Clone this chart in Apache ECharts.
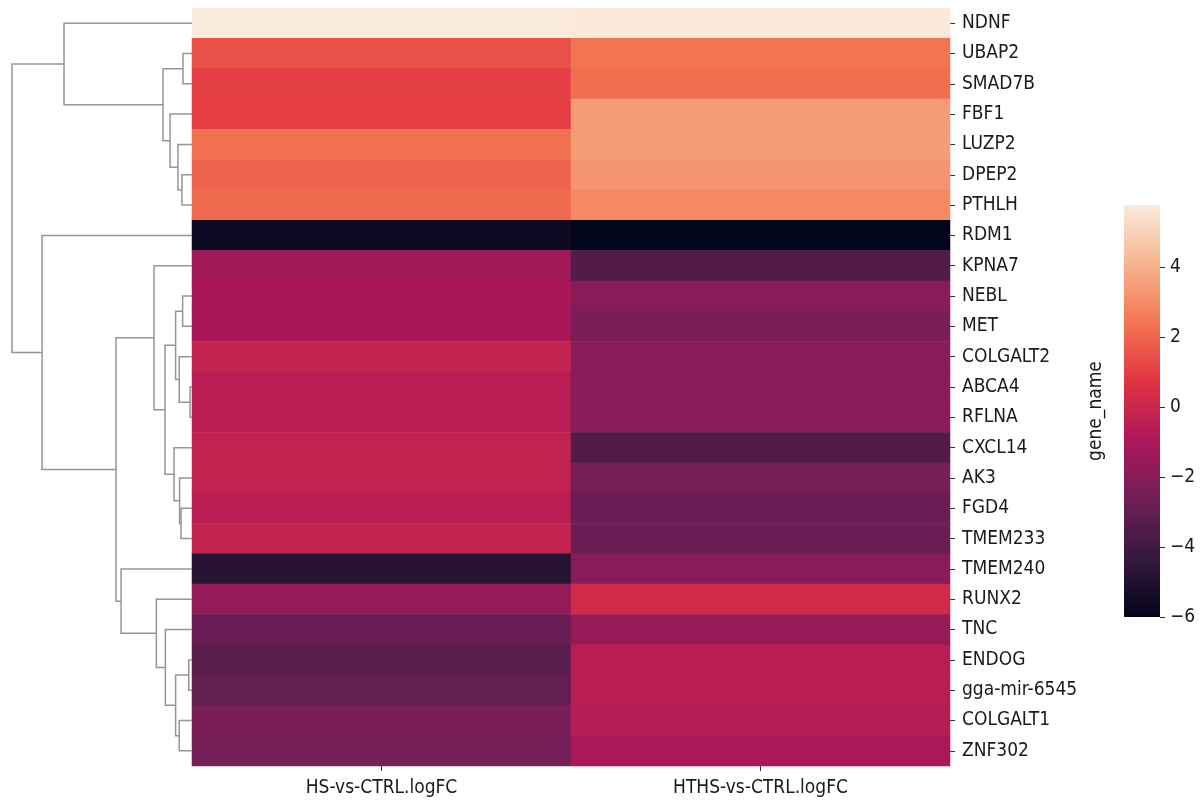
<!DOCTYPE html>
<html>
<head>
<meta charset="utf-8">
<script src="https://cdn.jsdelivr.net/npm/echarts@6/dist/echarts.min.js"></script>
<style>
html,body{margin:0;padding:0;background:#fff;}
#chart{width:1201px;height:800px;}
</style>
</head>
<body>
<div id="chart"></div>
<script>
// ---- data ----
const rows = ['NDNF','UBAP2','SMAD7B','FBF1','LUZP2','DPEP2','PTHLH','RDM1','KPNA7','NEBL','MET','COLGALT2','ABCA4','RFLNA','CXCL14','AK3','FGD4','TMEM233','TMEM240','RUNX2','TNC','ENDOG','gga-mir-6545','COLGALT1','ZNF302'];
const columns = ['HS-vs-CTRL.logFC','HTHS-vs-CTRL.logFC'];
const hsValues   = [5.77, 1.45, 1.05, 1.0, 2.26, 1.96, 2.1, -5.6, -1.3, -1.1, -1.1, -0.2, -0.6, -0.6, -0.3, -0.3, -0.6, -0.2, -4.8, -1.7, -2.8, -3.2, -3.0, -2.4, -2.5];
const hthsValues = [5.7, 2.35, 2.2, 3.4, 3.4, 3.25, 2.93, -6.0, -3.5, -2.0, -2.4, -2.0, -1.95, -1.9, -3.5, -2.5, -2.8, -2.8, -2.0, 0.2, -1.6, -0.6, -0.6, -0.65, -1.0];
// row linkage: [childA, childB, distance]; strings = leaves, numbers = earlier merges
const linkage = [
  ['UBAP2','SMAD7B',0.50],
  ['DPEP2','PTHLH',0.56],
  ['LUZP2',1,0.78],
  ['FBF1',2,1.22],
  [0,3,1.61],
  ['NDNF',4,7.11],
  ['NEBL','MET',0.52],
  ['ABCA4','RFLNA',0.11],
  ['COLGALT2',7,0.71],
  [6,8,0.91],
  ['FGD4','TMEM233',0.61],
  ['AK3',10,0.69],
  ['CXCL14',11,1.0],
  [9,12,1.5],
  ['KPNA7',13,2.11],
  ['ENDOG','gga-mir-6545',0.18],
  ['COLGALT1','ZNF302',0.71],
  [15,16,0.91],
  ['TNC',17,1.48],
  ['RUNX2',18,1.98],
  ['TMEM240',19,3.94],
  [14,20,4.22],
  ['RDM1',21,8.33],
  [5,22,10.0]
];
const colorbarTicks = [-6,-4,-2,0,2,4];
const vMin = -6, vMax = 5.77;
const rocket = ['#03051a','#35193e','#701f57','#ad1759','#e13342','#f37651','#f6b48f','#faebdd'];

// ---- build ----
const heatData = [];
rows.forEach((r,i)=>{ heatData.push([0,i,hsValues[i]]); heatData.push([1,i,hthsValues[i]]); });

const nodePos = [];
function pos(c){
  if (typeof c === 'string') return {y: rows.indexOf(c)+0.5, h: 0};
  return nodePos[c];
}
const treeLines = [];
linkage.forEach((l)=>{
  const a = pos(l[0]), b = pos(l[1]), h = l[2];
  treeLines.push({coords: [[a.h,a.y],[h,a.y],[h,b.y],[b.h,b.y]]});
  nodePos.push({y:(a.y+b.y)/2, h:h});
});
const treeMax = linkage[linkage.length-1][2];

const FONT = '"DejaVu Sans Condensed", "DejaVu Sans", sans-serif';
const FS = 19;
const TXT = '#1a1a1a';
const chart = echarts.init(document.getElementById('chart'), null, {renderer:'canvas'});
const option = {
  animation: false,
  backgroundColor: '#fff',
  textStyle: {fontFamily: FONT},
  grid: [
    {left:192, top:8, width:758, height:758},
    {left:12, top:8, width:180, height:758},
    {left:1124, top:205, width:36, height:412}
  ],
  xAxis: [
    {gridIndex:0, type:'category', data:columns, position:'bottom',
     axisLine:{show:false}, axisTick:{show:true, alignWithLabel:true, length:5, lineStyle:{color:'#333'}},
     axisLabel:{fontFamily:FONT, fontSize:FS, color:TXT, margin:13}, splitLine:{show:false}},
    {gridIndex:1, type:'value', min:0, max:treeMax, inverse:true, show:false},
    {gridIndex:2, type:'category', data:[''], show:false}
  ],
  yAxis: [
    {gridIndex:0, type:'category', data:rows, inverse:true, position:'right',
     axisLine:{show:false}, axisTick:{show:true, alignWithLabel:true, length:5, lineStyle:{color:'#333'}},
     axisLabel:{fontFamily:FONT, fontSize:FS, color:TXT, margin:12, interval:0, padding:[3,0,0,0]}, splitLine:{show:false}},
    {gridIndex:1, type:'value', min:0, max:rows.length, inverse:true, show:false},
    {gridIndex:2, type:'value', min:vMin, max:vMax, position:'right',
     axisLine:{show:false}, splitLine:{show:false},
     axisTick:{show:true, length:5, customValues:colorbarTicks, lineStyle:{color:'#333'}},
     axisLabel:{fontFamily:FONT, fontSize:FS, color:TXT, margin:10, customValues:colorbarTicks, padding:[3,0,0,0],
       formatter:(v)=>String(v).replace('-','\u2212')}},
    {gridIndex:2, type:'value', min:vMin, max:vMax, position:'left',
     name:'gene_name', nameLocation:'middle', nameRotate:90, nameGap:18,
     nameTextStyle:{fontFamily:FONT, fontSize:FS, color:TXT},
     axisLine:{show:false}, axisTick:{show:false}, axisLabel:{show:false}, splitLine:{show:false}}
  ],
  visualMap: {
    type:'continuous', min:vMin, max:vMax, show:false, seriesIndex:0, dimension:2,
    inRange:{color:rocket}
  },
  series: [
    {type:'heatmap', xAxisIndex:0, yAxisIndex:0, data:heatData, itemStyle:{borderWidth:0}, emphasis:{disabled:true}},
    {type:'lines', coordinateSystem:'cartesian2d', xAxisIndex:1, yAxisIndex:1, polyline:true,
     data:treeLines, lineStyle:{color:'#959595', width:1.5, opacity:1}, silent:true},
    {type:'custom', xAxisIndex:2, yAxisIndex:2, data:[[0, vMin]], silent:true,
     renderItem:function(params, api){
       const top = api.coord([0, vMax]);
       const bot = api.coord([0, vMin]);
       const w = api.size([1, 0])[0];
       const stops = rocket.map((c,i)=>({offset:i/(rocket.length-1), color:c}));
       return {type:'rect', shape:{x:top[0]-w/2, y:top[1], width:w, height:bot[1]-top[1]},
         style:{fill:new echarts.graphic.LinearGradient(0,1,0,0,stops)}};
     }}
  ]
};
chart.setOption(option);
</script>
</body>
</html>
